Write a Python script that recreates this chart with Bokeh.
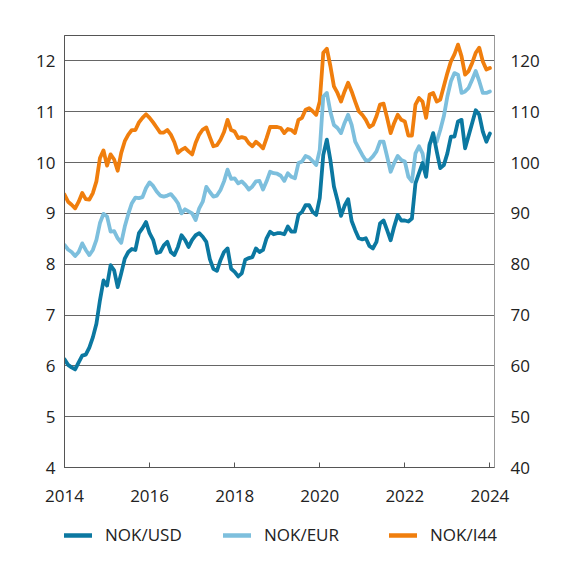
import pandas as pd
from bokeh.plotting import figure
from bokeh.layouts import column, row
from bokeh.models import Range1d, LinearAxis, FixedTicker, Legend, LegendItem
from bokeh.embed import file_html
from bokeh.resources import INLINE

# ---- data (monthly, Jan 2014 - Jan 2024) ----
start_month = "2014-01-01"

nok_usd = [
    6.13, 6.02, 5.97, 5.93, 6.07, 6.20, 6.22, 6.36, 6.56, 6.83, 7.29, 7.68,
    7.58, 7.98, 7.88, 7.55, 7.82, 8.11, 8.24, 8.30, 8.28, 8.61, 8.71, 8.83,
    8.61, 8.48, 8.22, 8.24, 8.37, 8.44, 8.24, 8.18, 8.34, 8.57, 8.48, 8.34,
    8.48, 8.57, 8.61, 8.54, 8.44, 8.10, 7.91, 7.87, 8.08, 8.24, 8.31, 7.91,
    7.85, 7.76, 7.82, 8.09, 8.12, 8.14, 8.31, 8.24, 8.28, 8.51, 8.64, 8.59,
    8.61, 8.61, 8.59, 8.74, 8.64, 8.64, 8.97, 9.03, 9.16, 9.16, 9.03, 8.97,
    9.30, 10.15, 10.45, 10.05, 9.53, 9.26, 8.95, 9.15, 9.28, 8.85, 8.67, 8.51,
    8.49, 8.51, 8.36, 8.31, 8.44, 8.80, 8.86, 8.67, 8.47, 8.74, 8.97, 8.86,
    8.86, 8.84, 8.90, 9.59, 9.79, 9.99, 9.72, 10.35, 10.58, 10.22, 9.89, 9.95,
    10.18, 10.51, 10.51, 10.81, 10.84, 10.28, 10.53, 10.78, 11.03, 10.94, 10.61, 10.41,
    10.57,
]

nok_eur = [
    8.38, 8.29, 8.24, 8.16, 8.24, 8.41, 8.28, 8.18, 8.28, 8.48, 8.81, 8.99,
    8.94, 8.64, 8.65, 8.51, 8.42, 8.74, 8.99, 9.20, 9.31, 9.30, 9.32, 9.50,
    9.61, 9.54, 9.43, 9.35, 9.33, 9.35, 9.38, 9.30, 9.20, 9.00, 9.08, 9.04,
    9.00, 8.87, 9.10, 9.23, 9.52, 9.42, 9.33, 9.35, 9.46, 9.63, 9.86, 9.68,
    9.69, 9.59, 9.63, 9.56, 9.47, 9.53, 9.63, 9.64, 9.47, 9.63, 9.82, 9.79,
    9.78, 9.74, 9.64, 9.79, 9.72, 9.69, 9.99, 10.02, 10.13, 10.10, 10.03, 9.95,
    10.25, 11.30, 11.37, 11.00, 10.74, 10.68, 10.58, 10.78, 10.94, 10.74, 10.41, 10.28,
    10.15, 10.04, 10.05, 10.12, 10.22, 10.41, 10.41, 10.12, 9.82, 9.99, 10.13, 10.05,
    10.02, 9.72, 9.63, 10.18, 10.32, 10.18, 9.79, 10.38, 10.45, 10.41, 10.64, 10.91,
    11.30, 11.60, 11.76, 11.73, 11.37, 11.40, 11.47, 11.63, 11.80, 11.60, 11.37, 11.37,
    11.40,
]

nok_i44 = [
    93.7, 92.3, 91.7, 91.0, 92.3, 94.0, 92.8, 92.7, 94.0, 96.3, 100.9, 102.4,
    99.4, 101.6, 100.6, 98.4, 101.9, 104.2, 105.5, 106.4, 106.4, 107.9, 108.8, 109.5,
    108.8, 107.9, 106.9, 105.9, 105.9, 106.4, 105.5, 104.0, 101.9, 102.5, 102.9, 102.2,
    101.6, 103.9, 105.5, 106.5, 106.9, 105.0, 103.2, 103.4, 104.5, 106.0, 108.4, 106.4,
    106.1, 104.8, 105.0, 104.8, 103.8, 103.2, 104.1, 103.5, 102.8, 104.8, 107.0, 107.0,
    107.0, 106.8, 105.8, 106.6, 106.4, 105.8, 108.4, 108.8, 110.4, 110.7, 110.1, 109.4,
    112.0, 121.6, 122.4, 119.0, 115.0, 113.7, 112.0, 114.0, 115.7, 114.0, 112.0, 110.1,
    109.4, 108.4, 107.0, 107.4, 109.1, 111.4, 111.6, 108.8, 105.8, 107.8, 109.4, 108.4,
    108.1, 105.3, 105.3, 111.4, 112.7, 112.0, 108.8, 113.4, 113.7, 112.0, 112.4, 115.0,
    117.6, 119.9, 121.3, 123.2, 120.9, 117.3, 118.0, 119.6, 121.6, 122.6, 119.9, 118.3,
    118.6,
]

series_names = ["NOK/USD", "NOK/EUR", "NOK/I44"]
x_ticks = [2014, 2016, 2018, 2020, 2022, 2024]
left_ticks = [4, 5, 6, 7, 8, 9, 10, 11, 12]
right_ticks = [40, 50, 60, 70, 80, 90, 100, 110, 120]

# ---- styling ----
FONT = "Open Sans"
FS = "17px"
TXT = "#222222"
COLORS = ["#0b78a1", "#7dbfdd", "#f07e0d"]
AX = "#555555"
W = 64 + 430 + 60

dates = pd.date_range(start_month, periods=len(nok_usd), freq="MS")
xs = [d.year + (d.month - 1) / 12 for d in dates]

p = figure(
    frame_width=430, frame_height=432,
    min_border_left=64, min_border_top=35, min_border_right=60, min_border_bottom=50,
    x_range=Range1d(2014, 2024.108), y_range=Range1d(4, 12.5),
    output_backend="svg", toolbar_location=None,
)
p.extra_y_ranges = {"r": Range1d(40, 125)}
p.background_fill_color = "white"
p.border_fill_color = "white"
p.outline_line_color = AX
p.outline_line_width = 1

# x axis
xa = p.xaxis[0]
xa.ticker = FixedTicker(ticks=x_ticks)
xa.axis_line_color = AX
xa.major_tick_line_color = AX
xa.major_tick_in = 5
xa.major_tick_out = 0
xa.minor_tick_line_color = None
xa.major_label_text_font = FONT
xa.major_label_text_font_size = FS
xa.major_label_text_color = TXT
xa.major_label_standoff = 22

# left axis
ya = p.yaxis[0]
ya.ticker = FixedTicker(ticks=left_ticks)
ya.axis_line_color = AX
ya.major_tick_line_color = None
ya.major_tick_in = 0
ya.major_tick_out = 0
ya.minor_tick_line_color = None
ya.major_label_text_font = FONT
ya.major_label_text_font_size = FS
ya.major_label_text_color = TXT
ya.major_label_standoff = 9

# right axis
ra = LinearAxis(y_range_name="r", ticker=FixedTicker(ticks=right_ticks))
ra.axis_line_color = "#999999"
ra.major_tick_line_color = None
ra.major_tick_in = 0
ra.major_tick_out = 0
ra.minor_tick_line_color = None
ra.major_label_text_font = FONT
ra.major_label_text_font_size = FS
ra.major_label_text_color = TXT
ra.major_label_standoff = 16
p.add_layout(ra, "right")

p.xgrid.visible = False
p.ygrid.ticker = FixedTicker(ticks=left_ticks[1:])
p.ygrid.grid_line_color = "#666666"
p.ygrid.grid_line_width = 1

lw = 3.8
r_i44 = p.line(xs, nok_i44, y_range_name="r", line_color=COLORS[2], line_width=lw,
               line_join="round", line_cap="round")
r_eur = p.line(xs, nok_eur, line_color=COLORS[1], line_width=lw,
               line_join="round", line_cap="round")
r_usd = p.line(xs, nok_usd, line_color=COLORS[0], line_width=lw,
               line_join="round", line_cap="round")

# ---- legend strip below the chart: one small figure per item ----
LH = 46
cell_w = [210, 166, W - 210 - 166]
cell_off = [64, 13, 13]
cells = []
for name, col, cw, off in zip(series_names, COLORS, cell_w, cell_off):
    f = figure(width=cw, height=LH, x_range=Range1d(0, 1), y_range=Range1d(0, 1),
               x_axis_type=None, y_axis_type=None, output_backend="svg",
               toolbar_location=None, min_border=0)
    f.grid.visible = False
    f.outline_line_color = None
    f.background_fill_color = "white"
    f.border_fill_color = "white"
    rr = f.line([-5, -4], [-5, -4], line_color=col, line_width=4.5, line_cap="round")
    lg = Legend(items=[LegendItem(label=name, renderers=[rr])],
                location=(off, LH - 19 - 10), orientation="horizontal",
                padding=0, margin=0, spacing=0,
                glyph_width=28, glyph_height=20, label_height=20,
                label_standoff=13,
                label_text_font=FONT, label_text_font_size=FS,
                label_text_color=TXT,
                background_fill_alpha=0, border_line_color=None)
    f.add_layout(lg, "center")
    cells.append(f)

layout = column(p, row(*cells, spacing=0), spacing=0)
open("out.html", "w").write(file_html(layout, INLINE))
